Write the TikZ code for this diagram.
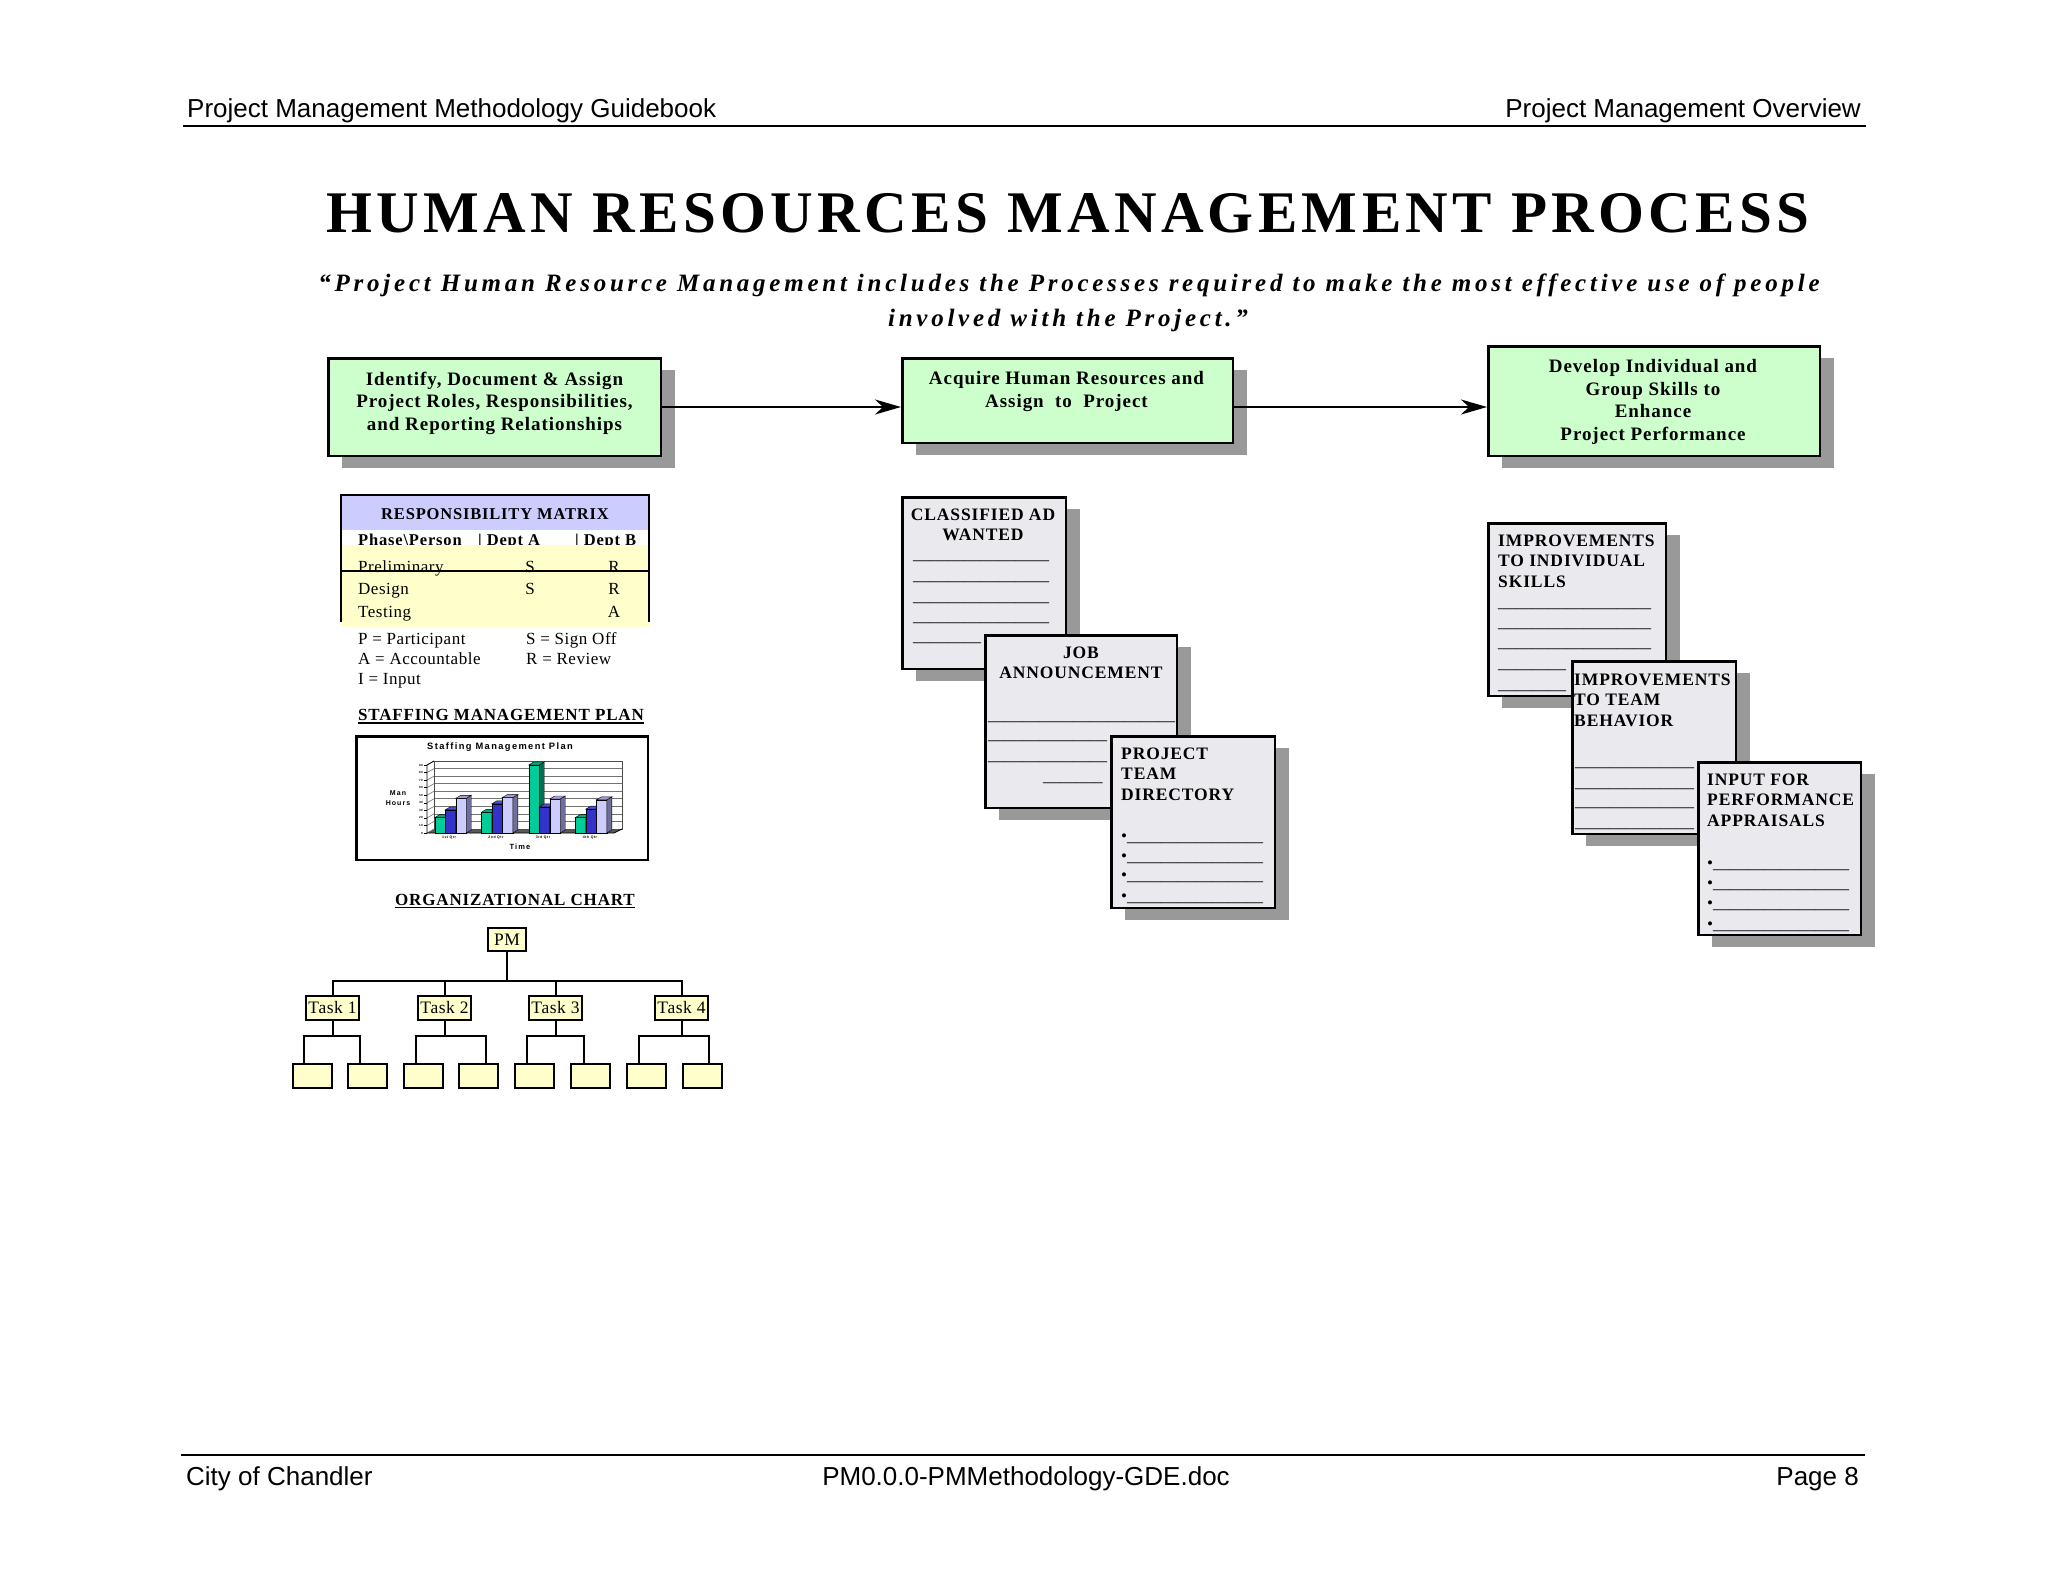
\documentclass[tikz,border=0pt]{standalone}
\usepackage{fontspec}
\usetikzlibrary{arrows.meta,shadows}
\setmainfont{Liberation Serif}
\newfontfamily\hdrfont{Liberation Sans}
\newfontfamily\titlefont[LetterSpace=7.4]{Liberation Serif}
\newfontfamily\quotefont[LetterSpace=15]{Liberation Serif}
\newfontfamily\boxfont[LetterSpace=5]{Liberation Serif}
\newfontfamily\regfont[LetterSpace=3]{Liberation Serif}
\newfontfamily\plainfont{Liberation Serif}
\newfontfamily\chartfont[LetterSpace=15]{Liberation Sans}
\newcommand\fsz[2]{\fontsize{#1}{#2}\selectfont}
\newcount\uscnt
\newcommand\uscores[1]{\uscnt=#1\relax\loop\ifnum\uscnt>0 \_\advance\uscnt by -1\repeat}
\definecolor{boxgreen}{RGB}{204,255,204}
\definecolor{docgray}{RGB}{234,234,238}
\definecolor{shadowgray}{RGB}{153,153,153}
\definecolor{matpurple}{RGB}{204,204,255}
\definecolor{matyellow}{RGB}{255,255,204}
\definecolor{orgyellow}{RGB}{255,255,204}
\definecolor{bgreen}{RGB}{0,204,153}
\definecolor{bgreenS}{RGB}{0,110,80}
\definecolor{bgreenT}{RGB}{0,170,120}
\definecolor{bblue}{RGB}{51,51,204}
\definecolor{bblueS}{RGB}{25,25,120}
\definecolor{bblueT}{RGB}{80,80,220}
\definecolor{blav}{RGB}{204,204,255}
\definecolor{blavS}{RGB}{110,110,150}
\definecolor{blavT}{RGB}{160,160,210}
\newcommand\drawbar[5]{%
  \pgfmathsetmacro\bx{#1}\pgfmathsetmacro\bt{833-#2*0.7556}%
  \filldraw[fill=#3,line width=0.4pt] (\bx,833) rectangle (\bx+10.5,\bt);
  \filldraw[fill=#4,line width=0.4pt] (\bx+10.5,833) -- (\bx+15.5,830) -- (\bx+15.5,\bt-3) -- (\bx+10.5,\bt) -- cycle;
  \filldraw[fill=#5,line width=0.4pt] (\bx,\bt) -- (\bx+5,\bt-3) -- (\bx+15.5,\bt-3) -- (\bx+10.5,\bt) -- cycle;
}
\begin{document}
\begin{tikzpicture}[x=1pt,y=-1pt,
  boxshadow/.style={general shadow={fill=shadowgray,shadow xshift=14pt,shadow yshift=-12pt}},
  procbox/.style={draw=black,line width=2.5pt,fill=boxgreen,inner sep=0pt,boxshadow},
  docbox/.style={draw=black,line width=2.5pt,fill=docgray,inner sep=0pt,boxshadow},
  orgbox/.style={draw=black,line width=2pt,fill=orgyellow,inner sep=0pt,font=\regfont\fsz{17.5}{20}},
  leaf/.style={orgbox,minimum width=39pt,minimum height=24pt},
  taskbox/.style={orgbox,minimum width=53pt,minimum height=24pt},
  conn/.style={line width=2pt},
  flow/.style={line width=2pt,-{Stealth[length=26pt,width=15pt,inset=8pt]}},
  boxtext/.style={inner sep=0pt,align=center,font=\boxfont\bfseries\fsz{19}{22.5}},
  doctitle/.style={inner sep=0pt,font=\boxfont\bfseries\fsz{17.5}{20.5}},
  blank/.style={inner sep=0pt,anchor=base west,font=\plainfont\fsz{17}{20}},
  mattext/.style={inner sep=0pt,anchor=base west,font=\regfont\fsz{17}{20}},
  matbold/.style={inner sep=0pt,anchor=base west,font=\boxfont\bfseries\fsz{16.5}{20}},
  secthead/.style={inner sep=0pt,anchor=base,font=\boxfont\bfseries\fsz{17}{20}},
  hdr/.style={inner sep=0pt,font=\hdrfont\fsz{26}{30}},
  chartlbl/.style={inner sep=0pt,font=\chartfont\bfseries\fsz{#1}{#1}},
]
\useasboundingbox (0,0) rectangle (2048,1582);
\fill[white] (0,0) rectangle (2048,1582);

% header and footer
\node[hdr,anchor=base west] (hl) at (187,117) {Project Management Methodology Guidebook};
\node[hdr,anchor=base east] (hr) at (1861,117) {Project Management Overview};
\draw[line width=2pt] (183,125.5) -- (1866,125.5);
\draw[line width=2pt] (181,1455) -- (1865,1455);
\node[hdr,anchor=base west] (fl) at (186,1485) {City of Chandler};
\node[hdr,anchor=base] (fm) at (1026,1485) {PM0.0.0-PMMethodology-GDE.doc};
\node[hdr,anchor=base east] (fr) at (1859,1485) {Page 8};

% title
\node[inner sep=0pt,anchor=base,font=\titlefont\bfseries\fsz{59}{60}] (title) at (1068,232) {HUMAN RESOURCES MANAGEMENT PROCESS};
\node[inner sep=0pt,anchor=base,font=\quotefont\bfseries\itshape\fsz{25}{30}] (q1) at (1069,291) {“Project Human Resource Management includes the Processes required to make the most effective use of people};
\node[inner sep=0pt,anchor=base,font=\quotefont\bfseries\itshape\fsz{25}{30}] (q2) at (1068,326) {involved with the Project.”};

% process boxes
\node[procbox,minimum width=332.5pt,minimum height=97.5pt] (p1) at (494.5,407) {};
\node[boxtext] (p1t) at (494.5,403) {Identify, Document \& Assign\\Project Roles, Responsibilities,\\and Reporting Relationships};
\node[procbox,minimum width=330.5pt,minimum height=84.5pt] (p2) at (1067.5,400.5) {};
\node[boxtext] (p2t) at (1066.5,391.5) {Acquire Human Resources and\\Assign\ \ to\ \ Project};
\node[procbox,minimum width=331.5pt,minimum height=109.5pt] (p3) at (1654,401) {};
\node[boxtext] (p3t) at (1653,402) {Develop Individual and\\Group Skills to\\Enhance\\Project Performance};
\draw[flow] (p1.east) -- (p1.east -| p2.west);
\draw[flow] (p1.east -| p2.east) -- (p1.east -| p3.west);

% responsibility matrix
\fill[matpurple] (341,495) rectangle (649,530);
\node[inner sep=0pt,anchor=base,font=\boxfont\bfseries\fsz{16.5}{18}] (mhead) at (495,519) {RESPONSIBILITY MATRIX};
\node[matbold] (mc1) at (358,545.5) {Phase\textbackslash Person};
\node[matbold] (mc2) at (478,545.5) {|\ Dept A};
\node[matbold] (mc3) at (575,545.5) {|\ Dept B};
\fill[matyellow] (341,545) rectangle (649,627);
\node[mattext] (mr1) at (358,572) {Preliminary};
\node[mattext,anchor=base] (mr1a) at (530,572) {S};
\node[mattext,anchor=base] (mr1b) at (614,572) {R};
\node[mattext] (mr2) at (358,594) {Design};
\node[mattext,anchor=base] (mr2a) at (530,594) {S};
\node[mattext,anchor=base] (mr2b) at (614,594) {R};
\node[mattext] (mr3) at (358,617) {Testing};
\node[mattext,anchor=base] (mr3b) at (614,617) {A};
\draw[line width=2pt] (341,571) -- (649,571);
\draw[line width=2pt] (340,495) -- (650,495);
\draw[line width=2pt] (341,495) -- (341,622);
\draw[line width=2pt] (649,495) -- (649,622);
\node[mattext] (lg1) at (358,644) {P = Participant};
\node[mattext] (lg2) at (358,664) {A = Accountable};
\node[mattext] (lg3) at (358,684) {I = Input};
\node[mattext] (lg4) at (526,644) {S = Sign Off};
\node[mattext] (lg5) at (526,664) {R = Review};

% staffing management plan
\node[secthead] (smp) at (501,720) {STAFFING MANAGEMENT PLAN};
\draw[line width=1.5pt] ([yshift=-2.8pt]smp.base west) -- ([yshift=-2.8pt]smp.base east);
\node[draw,line width=2.5pt,minimum width=291.5pt,minimum height=123.5pt,inner sep=0pt] (chart) at (502,798) {};
\node[chartlbl=9.3] (chtitle) at (500,747) {Staffing Management Plan};
\fill[black!65] (427,833) -- (614,833) -- (622,829) -- (434,829) -- cycle;
\fill[white] (434,761) rectangle (622,829);
\foreach \k in {0,...,9} {
  \draw[black!55,line width=0.6pt] (434,829-\k*7.556) -- (622,829-\k*7.556);
  \draw[black!55,line width=0.6pt] (427,833-\k*7.556) -- (434,829-\k*7.556);
  \draw[line width=0.5pt] (424,833-\k*7.556) -- (427,833-\k*7.556);
}
\draw[black!70,line width=0.6pt] (434,761) rectangle (622,829);
\draw[line width=0.8pt] (427,833) -- (427,765) -- (434,761);
\draw[line width=0.8pt] (427,833) -- (614,833) -- (622,829);
\foreach \k/\v in {0/0,1/10,2/20,3/30,4/40,5/50,6/60,7/70,8/80,9/90}
  \node[chartlbl=3,anchor=east] (yt\k) at (423,833-\k*7.556) {\v};
\foreach \g/\a/\b/\c in {434.7/20.4/30.6/45.9, 481.3/27.4/38.6/46.9, 528.7/90/34.6/45, 575.3/20.4/31.6/43.9} {
  \drawbar{\g}{\a}{bgreen}{bgreenS}{bgreenT}
  \drawbar{\g+10.5}{\b}{bblue}{bblueS}{bblueT}
  \drawbar{\g+21}{\c}{blav}{blavS}{blavT}
}
\node[chartlbl=3.5] (cq1) at (449,837.5) {1st Qtr};
\node[chartlbl=3.5] (cq2) at (496,837.5) {2nd Qtr};
\node[chartlbl=3.5] (cq3) at (543,837.5) {3rd Qtr};
\node[chartlbl=3.5] (cq4) at (590,837.5) {4th Qtr};
\node[chartlbl=7] (chman) at (398,793) {Man};
\node[chartlbl=7] (chhours) at (398,803) {Hours};
\node[chartlbl=7.5] (chtime) at (520,847) {Time};

% organizational chart
\node[secthead] (orgh) at (515,905) {ORGANIZATIONAL CHART};
\draw[line width=1.5pt] ([yshift=-2.5pt]orgh.base west) -- ([yshift=-2.5pt]orgh.base east);
\node[orgbox,minimum width=38pt,minimum height=23pt] (pm) at (507,939.5) {PM};
\node[taskbox] (t1) at (332.5,1008) {Task 1};
\node[taskbox] (t2) at (444.5,1008) {Task 2};
\node[taskbox] (t3) at (555.5,1008) {Task 3};
\node[taskbox] (t4) at (681.5,1008) {Task 4};
\foreach \t in {t1,t2,t3,t4}
  \draw[conn] (pm.south) -- ++(0,29) -| (\t.north);
\node[leaf] (c1a) at (312,1076) {};
\node[leaf] (c1b) at (367.5,1076) {};
\node[leaf] (c2a) at (423,1076) {};
\node[leaf] (c2b) at (478.5,1076) {};
\node[leaf] (c3a) at (534.5,1076) {};
\node[leaf] (c3b) at (590.5,1076) {};
\node[leaf] (c4a) at (646.5,1076) {};
\node[leaf] (c4b) at (702.5,1076) {};
\draw[conn] (t1.south) -- ++(0,15) -| ([xshift=-8pt]c1a.north);
\draw[conn] (t1.south) -- ++(0,15) -| ([xshift=-7.5pt]c1b.north);
\draw[conn] (t2.south) -- ++(0,15) -| ([xshift=-7pt]c2a.north);
\draw[conn] (t2.south) -- ++(0,15) -| ([xshift=7.5pt]c2b.north);
\draw[conn] (t3.south) -- ++(0,15) -| ([xshift=-7.5pt]c3a.north);
\draw[conn] (t3.south) -- ++(0,15) -| ([xshift=-6.5pt]c3b.north);
\draw[conn] (t4.south) -- ++(0,15) -| ([xshift=-7.5pt]c4a.north);
\draw[conn] (t4.south) -- ++(0,15) -| ([xshift=6.5pt]c4b.north);

% documents, column 2
\node[docbox,minimum width=163.5pt,minimum height=171.5pt] (d1) at (984,583) {};
\node[doctitle,align=center] (d1t) at (983,525) {CLASSIFIED AD\\WANTED};
\foreach \i/\y in {1/559,2/580,3/601,4/621}
  \node[blank] (d1l\i) at (913,\y) {\uscores{16}};
\node[blank] (d1l5) at (913,641) {\uscores{8}};
\node[docbox,minimum width=191.5pt,minimum height=172.5pt] (d2) at (1081,721.5) {};
\node[doctitle,align=center] (d2t) at (1081,663) {JOB\\ANNOUNCEMENT};
\node[blank] (d2l1) at (988,720) {\uscores{22}};
\node[blank] (d2l2) at (988,739) {\uscores{14}};
\node[blank] (d2l3) at (988,760) {\uscores{14}};
\node[blank] (d2l4) at (1043,781) {\uscores{7}};
\node[docbox,minimum width=163.5pt,minimum height=171.5pt] (d3) at (1193,822) {};
\node[doctitle,align=left,anchor=west] (d3t) at (1121,774) {PROJECT\\TEAM\\DIRECTORY};
\foreach \i/\y in {1/841,2/861,3/880,4/901}
  \node[blank] (d3l\i) at (1121,\y) {•\uscores{16}};

% documents, column 3
\node[docbox,minimum width=177.5pt,minimum height=172.5pt] (d4) at (1577,609.5) {};
\node[doctitle,align=left,anchor=west] (d4t) at (1498,561) {IMPROVEMENTS\\TO INDIVIDUAL\\SKILLS};
\foreach \i/\y in {1/607,2/627,3/647}
  \node[blank] (d4l\i) at (1498,\y) {\uscores{18}};
\node[blank] (d4l4) at (1498,668) {\uscores{8}};
\node[blank] (d4l5) at (1498,689) {\uscores{8}};
\node[docbox,minimum width=163.5pt,minimum height=172.5pt] (d5) at (1654,747.5) {};
\node[doctitle,align=left,anchor=west] (d5t) at (1574,700) {IMPROVEMENTS\\TO TEAM\\BEHAVIOR};
\foreach \i/\y in {1/766,2/787,3/806,4/827}
  \node[blank] (d5l\i) at (1575,\y) {\uscores{14}};
\node[docbox,minimum width=162.5pt,minimum height=172.5pt] (d6) at (1779.5,848.5) {};
\node[doctitle,align=left,anchor=west] (d6t) at (1707,800) {INPUT FOR\\PERFORMANCE\\APPRAISALS};
\foreach \i/\y in {1/868,2/888,3/908,4/929}
  \node[blank] (d6l\i) at (1707,\y) {•\uscores{16}};
\end{tikzpicture}
\end{document}
